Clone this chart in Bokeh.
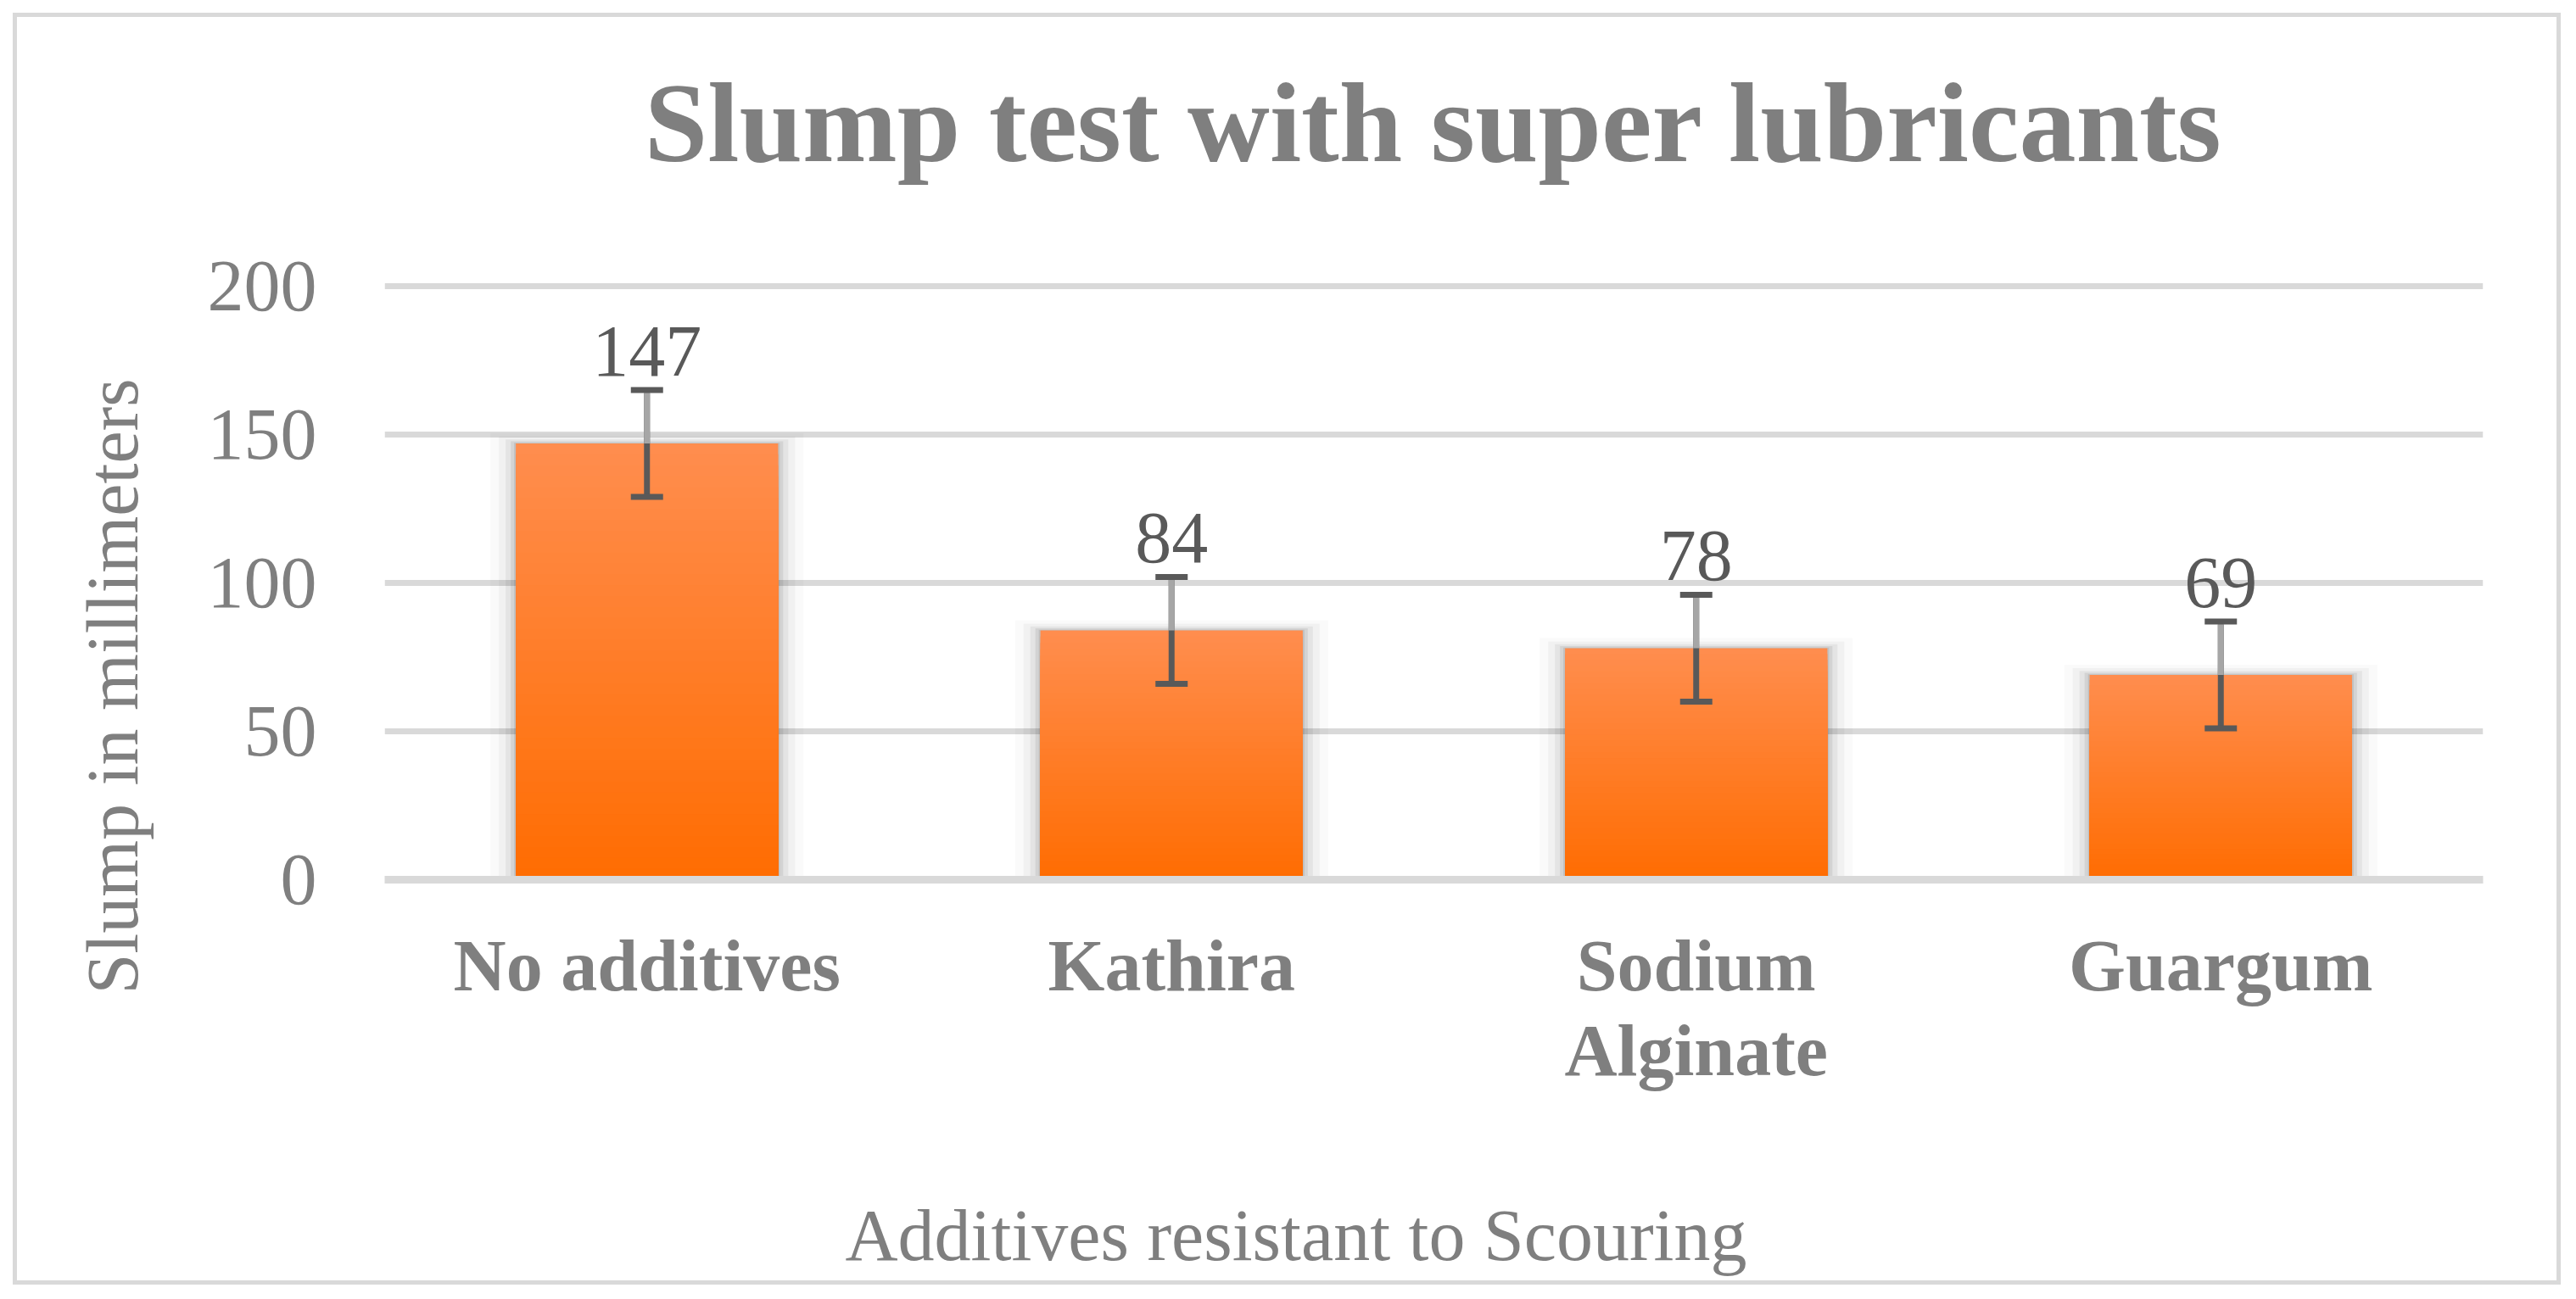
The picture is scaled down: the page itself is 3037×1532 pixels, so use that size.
import numpy as np
from bokeh.plotting import figure
from bokeh.models import (FactorRange, Range1d, ColumnDataSource, LabelSet, Title,
                          Whisker, FixedTicker, TeeHead)
from bokeh.core.properties import value
from bokeh.embed import file_html
from bokeh.resources import INLINE

# ---------------- data ----------------
categories = ["No additives", "Kathira", "Sodium\nAlginate", "Guargum"]
slump_mm = [147, 84, 78, 69]
error_mm = [18, 18, 18, 18]
y_ticks = [0, 50, 100, 150, 200]
title_text = "Slump test with super lubricants"
x_title = "Additives resistant to Scouring"
y_title = "Slump in millimeters"

# ---------------- style ----------------
FONT = "Liberation Serif"
GRAY_TXT = "#7f7f7f"
DARK_TXT = "#595959"
GRID = "#d9d9d9"
TOP_RGB = (255, 141, 78)
BOT_RGB = (255, 108, 0)

PX_PER_CAT = 2474 / 4.0
PX_PER_UNIT = 3.5
Y_TOP = 232.57          # frame extends above the 200 gridline (room for the title)

p = figure(width=3034, height=1530,
           x_range=FactorRange(factors=categories, range_padding=0),
           y_range=Range1d(0, Y_TOP),
           output_backend="svg", toolbar_location=None,
           min_border_left=453, min_border_right=107,
           min_border_top=223, min_border_bottom=493)
p.styles = {"outline": "5px solid #d9d9d9", "outline-offset": "-20px"}
p.outline_line_color = None
p.background_fill_color = "white"
p.border_fill_color = None

# grid
p.xgrid.visible = False
p.ygrid.grid_line_color = GRID
p.ygrid.grid_line_width = 7

# y axis
p.yaxis.ticker = FixedTicker(ticks=y_ticks)
p.yaxis.axis_line_color = None
p.yaxis.major_tick_line_color = None
p.yaxis.minor_tick_line_color = None
p.yaxis.major_label_text_font = FONT
p.yaxis.major_label_text_font_size = "86px"
p.yaxis.major_label_text_color = GRAY_TXT
p.yaxis.major_label_standoff = 74

# x axis
p.xaxis.axis_line_color = GRID
p.xaxis.axis_line_width = 9
p.xaxis.major_tick_line_color = None
p.xaxis.minor_tick_line_color = None
p.xaxis.major_label_text_font = FONT
p.xaxis.major_label_text_font_style = "bold"
p.xaxis.major_label_text_font_size = "86px"
p.xaxis.major_label_text_color = GRAY_TXT
p.xaxis.major_label_text_line_height = 1.05
p.xaxis.major_label_standoff = 47
# blank axis label used only as vertical spacing before the x title
p.xaxis.axis_label = " "
p.xaxis.axis_label_text_font_size = "10px"
p.xaxis.axis_label_standoff = 97

# soft shadow around bars
for d_px, a in [(30, 0.02), (20, 0.035), (12, 0.05), (6, 0.07), (2, 0.09)]:
    w = 0.5 + 2 * d_px / PX_PER_CAT
    tops = [v + 0.4 * d_px / PX_PER_UNIT for v in slump_mm]
    p.vbar(x=categories, top=tops, width=w, fill_color="black", fill_alpha=a,
           line_color=None)

# gradient bars (drawn tallest first, overlapping, so no seams)
N = 40
for k in range(N):
    frac = (N - k) / N
    r = round(BOT_RGB[0] + (TOP_RGB[0] - BOT_RGB[0]) * frac)
    g = round(BOT_RGB[1] + (TOP_RGB[1] - BOT_RGB[1]) * frac)
    b = round(BOT_RGB[2] + (TOP_RGB[2] - BOT_RGB[2]) * frac)
    col = "#%02x%02x%02x" % (r, g, b)
    p.vbar(x=categories, top=[v * frac for v in slump_mm], width=0.5,
           fill_color=col, line_color=None)

src = ColumnDataSource(dict(
    cat=categories,
    v=slump_mm,
    up=[v + e for v, e in zip(slump_mm, error_mm)],
    lo=[v - e for v, e in zip(slump_mm, error_mm)],
    light_top=[v + e - 1.0 for v, e in zip(slump_mm, error_mm)],
    lab=[str(v) for v in slump_mm],
))

whisk = Whisker(base="cat", upper="up", lower="lo", source=src,
                line_color=DARK_TXT, line_width=7, level="annotation",
                upper_head=TeeHead(size=38, line_color=DARK_TXT, line_width=7),
                lower_head=TeeHead(size=38, line_color=DARK_TXT, line_width=7))
p.add_layout(whisk)
whisk2 = Whisker(base="cat", upper="light_top", lower="v", source=src,
                 line_color="#a6a6a6", line_width=7, level="annotation",
                 upper_head=None, lower_head=None)
p.add_layout(whisk2)

labels = LabelSet(x="cat", y="v", text="lab", source=src, y_offset=80,
                  text_align="center", text_baseline="alphabetic",
                  text_font=value(FONT), text_font_size=value("86px"),
                  text_color=DARK_TXT)
p.add_layout(labels)

# titles (in side panels so they are not clipped by the frame)
p.add_layout(Title(text=title_text, align="center", standoff=10,
                   text_font=FONT, text_font_style="bold",
                   text_font_size="134px", text_color=GRAY_TXT), "above")
p.add_layout(Title(text=x_title, align="left", offset=543, standoff=10,
                   text_font=FONT, text_font_style="normal",
                   text_font_size="86px", text_color=GRAY_TXT), "below")
p.add_layout(Title(text=y_title, align="left", offset=-135, standoff=122,
                   text_font=FONT, text_font_style="normal",
                   text_font_size="86px", text_color=GRAY_TXT), "left")

open("out.html", "w").write(file_html(p, INLINE))
